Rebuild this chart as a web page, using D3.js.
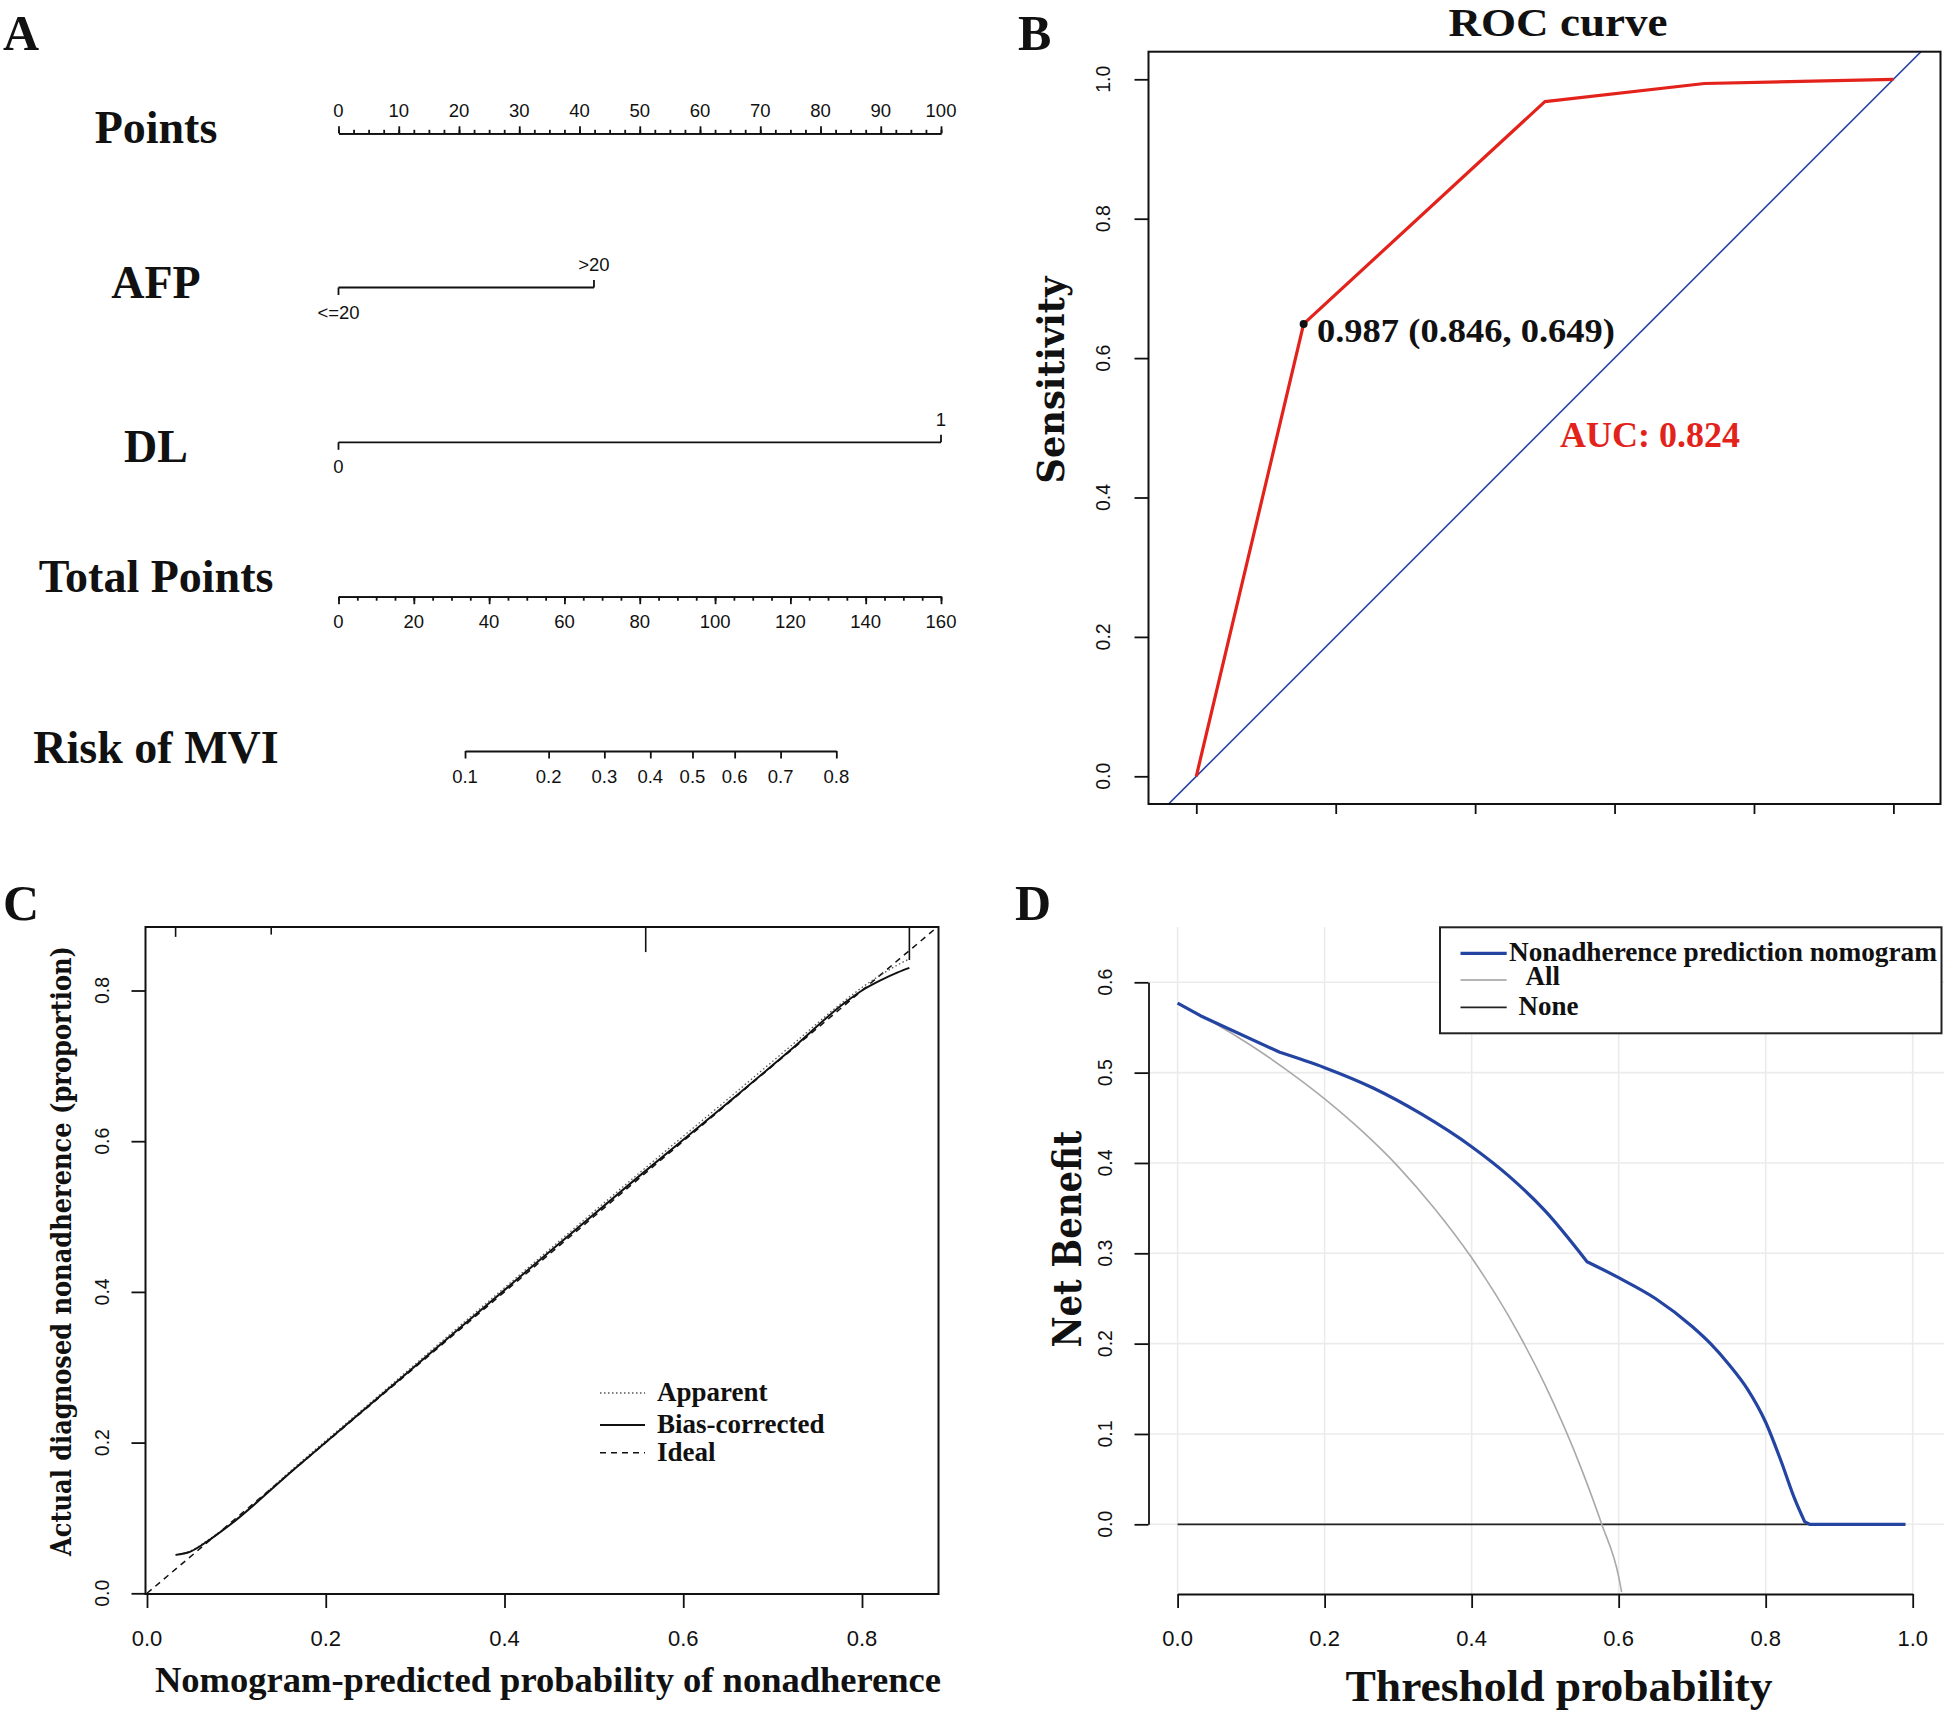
<!DOCTYPE html>
<html><head><meta charset="utf-8">
<script src="https://cdn.jsdelivr.net/npm/d3@7"></script>
<style>body{margin:0;background:#fff} svg{display:block}</style>
</head><body>
<script>
// ================= DATA =================
// Panel A : nomogram
const pointsTicks = [0,10,20,30,40,50,60,70,80,90,100];
const totalPointsTicks = [0,20,40,60,80,100,120,140,160];
const afpLevels = ["<=20", ">20"];
const afpPoints = [0, 42.4];
const dlLevels = ["0", "1"];
const dlPoints = [0, 100];
const riskTicks = [0.1,0.2,0.3,0.4,0.5,0.6,0.7,0.8];
const riskTotalPoints = [33.6,55.8,70.6,82.8,94.0,105.2,117.4,132.2];
const rowLabels = ["Points","AFP","DL","Total Points","Risk of MVI"];

// Panel B : ROC
const rocSpecificity = [1, 0.846, 0.5, 0.271, 0];
const rocSensitivity = [0, 0.649, 0.968, 0.994, 1];
const rocBestThreshold = 0.987, rocBestSpec = 0.846, rocBestSens = 0.649;
const rocAUC = 0.824;
const rocYTicks = [0,0.2,0.4,0.6,0.8,1.0];
const rocXTicks = [1.0,0.8,0.6,0.4,0.2,0.0];

// Panel C : calibration
const calPredicted     = [0.032,0.048,0.070,0.093,0.164,0.250,0.350,0.450,0.550,0.650,0.720,0.780,0.800,0.820,0.840,0.853];
const calBiasCorrected = [0.051,0.055,0.071,0.091,0.164,0.251,0.352,0.453,0.553,0.651,0.721,0.783,0.800,0.813,0.824,0.830];
const calApparent      = [0.051,0.056,0.072,0.092,0.166,0.253,0.355,0.456,0.557,0.656,0.726,0.786,0.804,0.820,0.834,0.842];
const rugPredicted = [0.032,0.139,0.558,0.853];
const rugCount = [30,23,76,100];
const calXTicks = [0,0.2,0.4,0.6,0.8];
const calYTicks = [0,0.2,0.4,0.6,0.8];
const calLegend = ["Apparent","Bias-corrected","Ideal"];

// Panel D : decision curve
const dcaThreshold = [0,0.031,0.139,0.2,0.266,0.332,0.4,0.45,0.5,0.557,0.6,0.65,0.7,0.725,0.75,0.775,0.8,0.82,0.84,0.853,0.86,0.99];
const dcaNomogram  = [0.577,0.563,0.5225,0.5055,0.483,0.454,0.418,0.386,0.347,0.2907,0.273,0.250,0.219,0.200,0.177,0.150,0.113,0.072,0.027,0.003,0.0,0.0];
const dcaKinks = [0.031,0.139,0.557,0.853,0.86];
const dcaAllThreshold = [0,0.05,0.1,0.15,0.2,0.25,0.3,0.35,0.4,0.45,0.5,0.55,0.577,0.6,0.604];
const dcaAll          = [0.577,0.555,0.530,0.502,0.471,0.436,0.396,0.349,0.295,0.231,0.154,0.060,0.0,-0.058,-0.075];
const dcaNoneThreshold = [0,0.99];
const dcaNone = [0,0];
const dcaXTicks = [0,0.2,0.4,0.6,0.8,1.0];
const dcaYTicks = [0,0.1,0.2,0.3,0.4,0.5,0.6];
const dcaLegend = ["Nonadherence prediction nomogram","All","None"];

// ================= DRAW =================
const SERIF = "'Liberation Serif','Times New Roman',serif";
const WIDESERIF = "'DejaVu Serif','Century Schoolbook',serif";
const SANS = "'Liberation Sans',Arial,Helvetica,sans-serif";
const INK = "#111";
const svg = d3.select("body").append("svg").attr("width",1944).attr("height",1712);
svg.append("rect").attr("width",1944).attr("height",1712).attr("fill","#fff");

function text(g, x, y, s, size, o = {}) {
  const t = g.append("text").attr("x", x).attr("y", y).text(s)
    .attr("font-family", o.family || SERIF).attr("font-size", size)
    .attr("font-weight", o.weight || "bold").attr("fill", o.fill || INK)
    .attr("text-anchor", o.anchor || "start");
  if (o.len) t.attr("textLength", o.len).attr("lengthAdjust", "spacingAndGlyphs");
  if (o.rotate) t.attr("transform", `rotate(-90,${x},${y})`);
  return t;
}
function styleAxis(g, w = 1.8) {
  g.selectAll("path,line").attr("stroke", INK).attr("stroke-width", w);
  g.selectAll("text").remove();
}

// panel letters
text(svg, 3, 50, "A", 50);
text(svg, 1018, 50, "B", 50);
text(svg, 3, 920, "C", 50);
text(svg, 1015, 920, "D", 50);

// ---------- Panel A ----------
const gA = svg.append("g");
const xPts = d3.scaleLinear().domain([0,100]).range([338.5,941]);
const xTot = d3.scaleLinear().domain([0,160]).range([338.5,941]);
const rowBase = [143, 298, 461.7, 591.7, 763.3];
rowLabels.forEach((s,i) => text(gA, 156, rowBase[i], s, 46, {anchor:"middle"}));

// Points axis
const ptsY = 133.3;
const gP = gA.append("g").attr("transform", `translate(0,${ptsY})`);
gP.append("g").call(d3.axisTop(xPts).tickValues(d3.range(0,100.01,2.5)).tickSize(3.5).tickSizeOuter(0)).call(styleAxis);
gP.append("g").call(d3.axisTop(xPts).tickValues(pointsTicks).tickSize(7).tickSizeOuter(0)).call(styleAxis);
pointsTicks.forEach(v => text(gP, xPts(v), -16.5, String(v), 18.5, {family:SANS, weight:"normal", anchor:"middle"}));

// categorical rows
function catRow(levels, pts, y) {
  const g = gA.append("g");
  g.append("line").attr("x1", xPts(d3.min(pts))).attr("x2", xPts(d3.max(pts)))
    .attr("y1", y).attr("y2", y).attr("stroke", INK).attr("stroke-width", 1.8);
  pts.forEach((p,i) => {
    const dir = i % 2 === 0 ? 1 : -1;
    g.append("line").attr("x1", xPts(p)).attr("x2", xPts(p)).attr("y1", y).attr("y2", y + dir*7.5)
      .attr("stroke", INK).attr("stroke-width", 1.8);
    const cy = dir > 0 ? y + 24.5 : y - 23;
    text(g, xPts(p), cy + 6.6, levels[i], 18.5, {family:SANS, weight:"normal", anchor:"middle"});
  });
}
catRow(afpLevels, afpPoints, 287.5);
catRow(dlLevels, dlPoints, 442.3);

// Total points axis
const totY = 596.7;
const gT = gA.append("g").attr("transform", `translate(0,${totY})`);
gT.append("g").call(d3.axisBottom(xTot).tickValues(d3.range(0,160.01,5)).tickSize(4).tickSizeOuter(0)).call(styleAxis);
gT.append("g").call(d3.axisBottom(xTot).tickValues(totalPointsTicks).tickSize(7.5).tickSizeOuter(0)).call(styleAxis);
totalPointsTicks.forEach(v => text(gT, xTot(v), 25 + 6.6, String(v), 18.5, {family:SANS, weight:"normal", anchor:"middle"}));

// Risk axis
const riskY = 751;
const xRisk = d3.scaleLinear().domain(riskTicks).range(riskTotalPoints.map(xTot));
const gR = gA.append("g").attr("transform", `translate(0,${riskY})`);
gR.call(d3.axisBottom(xRisk).tickValues(riskTicks).tickSize(7.5).tickSizeOuter(0)).call(styleAxis);
riskTicks.forEach(v => text(gR, xRisk(v), 25 + 6.6, d3.format(".1f")(v), 18.5, {family:SANS, weight:"normal", anchor:"middle"}));

// ---------- Panel B ----------
const gB = svg.append("g");
const B = {l:1148.5, r:1940.5, t:51.7, b:804};
const xSpec = d3.scaleLinear().domain([1,0]).range([1196.3,1893.4]);
const ySens = d3.scaleLinear().domain([0,1]).range([776.3,79.3]);
svg.append("clipPath").attr("id","clipB").append("rect").attr("x",B.l).attr("y",B.t).attr("width",B.r-B.l).attr("height",B.b-B.t);
text(gB, 1558, 36, "ROC curve", 40, {anchor:"middle", len:219});
// diagonal
gB.append("line").attr("clip-path","url(#clipB)")
  .attr("x1", xSpec(1.2)).attr("y1", ySens(-0.2)).attr("x2", xSpec(-0.2)).attr("y2", ySens(1.2))
  .attr("stroke", "#2a44a6").attr("stroke-width", 1.6);
// curve
gB.append("path").datum(d3.zip(rocSpecificity, rocSensitivity))
  .attr("d", d3.line().x(d => xSpec(d[0])).y(d => ySens(d[1])))
  .attr("fill","none").attr("stroke","#e3221b").attr("stroke-width",3.2).attr("stroke-linejoin","round");
gB.append("circle").attr("cx", xSpec(rocBestSpec)).attr("cy", ySens(rocBestSens)).attr("r", 4).attr("fill", INK);
text(gB, 1317, 342, `${rocBestThreshold} (${rocBestSpec}, ${rocBestSens})`, 34, {len:298});
text(gB, 1560, 446.7, `AUC: ${rocAUC}`, 36, {fill:"#e3221b", len:180});
gB.append("rect").attr("x",B.l).attr("y",B.t).attr("width",B.r-B.l).attr("height",B.b-B.t)
  .attr("fill","none").attr("stroke",INK).attr("stroke-width",2);
const gBy = gB.append("g").attr("transform",`translate(${B.l},0)`);
gBy.call(d3.axisLeft(ySens).tickValues(rocYTicks).tickSize(14).tickSizeOuter(0)).call(styleAxis);
gBy.select(".domain").remove();
rocYTicks.forEach(v => text(gB, 1103.3 + 7, ySens(v), d3.format(".1f")(v), 19.5, {family:SANS, weight:"normal", anchor:"middle", rotate:true}));
const gBx = gB.append("g").attr("transform",`translate(0,${B.b})`);
gBx.call(d3.axisBottom(xSpec).tickValues(rocXTicks).tickSize(10).tickSizeOuter(0)).call(styleAxis);
gBx.select(".domain").remove();
text(gB, 1064, 380, "Sensitivity", 37, {family:WIDESERIF, anchor:"middle", rotate:true, len:207});

// ---------- Panel C ----------
const gC = svg.append("g");
const C = {l:145.5, r:938.5, t:927, b:1594};
const xCal = d3.scaleLinear().domain([0,0.8]).range([147,862]);
const yCal = d3.scaleLinear().domain([0,0.8]).range([1593.3,990.5]);
svg.append("clipPath").attr("id","clipC").append("rect").attr("x",C.l).attr("y",C.t).attr("width",C.r-C.l).attr("height",C.b-C.t);
// ideal
gC.append("line").attr("clip-path","url(#clipC)")
  .attr("x1", xCal(0)).attr("y1", yCal(0)).attr("x2", xCal(1)).attr("y2", yCal(1))
  .attr("stroke", INK).attr("stroke-width", 1.5).attr("stroke-dasharray","6,5");
// apparent
gC.append("path").datum(d3.zip(calPredicted, calApparent))
  .attr("d", d3.line().x(d => xCal(d[0])).y(d => yCal(d[1])).curve(d3.curveMonotoneX))
  .attr("fill","none").attr("stroke","#555").attr("stroke-width",1.3).attr("stroke-dasharray","1.5,2.5");
// bias-corrected
gC.append("path").datum(d3.zip(calPredicted, calBiasCorrected))
  .attr("d", d3.line().x(d => xCal(d[0])).y(d => yCal(d[1])).curve(d3.curveMonotoneX))
  .attr("fill","none").attr("stroke",INK).attr("stroke-width",2);
// rug
const rugLen = d3.scaleLinear().domain([0,100]).range([0,33]);
rugPredicted.forEach((p,i) => gC.append("line").attr("x1",xCal(p)).attr("x2",xCal(p))
  .attr("y1",C.t).attr("y2",C.t + rugLen(rugCount[i])).attr("stroke",INK).attr("stroke-width",1.6));
gC.append("rect").attr("x",C.l).attr("y",C.t).attr("width",C.r-C.l).attr("height",C.b-C.t)
  .attr("fill","none").attr("stroke",INK).attr("stroke-width",2);
const gCx = gC.append("g").attr("transform",`translate(0,${C.b})`);
gCx.call(d3.axisBottom(xCal).tickValues(calXTicks).tickSize(14).tickSizeOuter(0)).call(styleAxis);
gCx.select(".domain").remove();
calXTicks.forEach(v => text(gC, xCal(v), 1646, d3.format(".1f")(v), 22, {family:SANS, weight:"normal", anchor:"middle"}));
const gCy = gC.append("g").attr("transform",`translate(${C.l},0)`);
gCy.call(d3.axisLeft(yCal).tickValues(calYTicks).tickSize(14).tickSizeOuter(0)).call(styleAxis);
gCy.select(".domain").remove();
calYTicks.forEach(v => text(gC, 102 + 7, yCal(v), d3.format(".1f")(v), 19.5, {family:SANS, weight:"normal", anchor:"middle", rotate:true}));
text(gC, 548, 1692, "Nomogram-predicted probability of nonadherence", 36, {anchor:"middle", len:786});
text(gC, 71, 1251, "Actual diagnosed nonadherence (proportion)", 28, {family:WIDESERIF, anchor:"middle", rotate:true, len:610});
// legend
const calLegY = [1393, 1425, 1452.7];
const calLegDash = ["1.5,2.5", null, "6,5"];
const calLegCol = ["#555", INK, INK];
calLegend.forEach((s,i) => {
  const l = gC.append("line").attr("x1",600).attr("x2",645).attr("y1",calLegY[i]).attr("y2",calLegY[i])
    .attr("stroke",calLegCol[i]).attr("stroke-width", i===1 ? 2 : 1.4);
  if (calLegDash[i]) l.attr("stroke-dasharray", calLegDash[i]);
  text(gC, 657, calLegY[i] + 8, s, 27);
});

// ---------- Panel D ----------
const gD = svg.append("g");
const D = {l:1148.5, r:1944, t:927, b:1594};
const xD = d3.scaleLinear().domain([0,1]).range([1177.6,1912.7]);
const yD = d3.scaleLinear().domain([0,0.6]).range([1524.3,982.3]);
svg.append("clipPath").attr("id","clipD").append("rect").attr("x",D.l).attr("y",D.t).attr("width",D.r-D.l).attr("height",D.b-D.t);
// grid
dcaXTicks.forEach(v => gD.append("line").attr("x1",xD(v)).attr("x2",xD(v)).attr("y1",D.t).attr("y2",D.b)
  .attr("stroke","#ebebeb").attr("stroke-width",1.6));
dcaYTicks.forEach(v => gD.append("line").attr("x1",D.l).attr("x2",D.r).attr("y1",yD(v)).attr("y2",yD(v))
  .attr("stroke","#ebebeb").attr("stroke-width",1.6));
const lineD = d3.line().x(d => xD(d[0])).y(d => yD(d[1]));
gD.append("path").datum(d3.zip(dcaNoneThreshold, dcaNone)).attr("d", lineD)
  .attr("fill","none").attr("stroke","#222").attr("stroke-width",1.8);
gD.append("path").attr("clip-path","url(#clipD)").datum(d3.zip(dcaAllThreshold, dcaAll))
  .attr("d", d3.line().x(d => xD(d[0])).y(d => yD(d[1])).curve(d3.curveMonotoneX))
  .attr("fill","none").attr("stroke","#a9a9a9").attr("stroke-width",1.6);
// nomogram curve: smooth pieces joined at the kinks
const nomoPts = d3.zip(dcaThreshold, dcaNomogram);
const pieces = [];
let cur = [];
nomoPts.forEach(p => { cur.push(p); if (dcaKinks.includes(p[0])) { pieces.push(cur); cur = [p]; } });
if (cur.length > 1) pieces.push(cur);
const smoothD = d3.line().x(d => xD(d[0])).y(d => yD(d[1])).curve(d3.curveMonotoneX);
const pathStr = pieces.map((pc, i) => { const s = smoothD(pc); return i === 0 ? s : s.replace(/^M/, "L"); }).join("");
gD.append("path").attr("d", pathStr)
  .attr("fill","none").attr("stroke","#2444a2").attr("stroke-width",3.2).attr("stroke-linejoin","round");
// axes
const gDx = gD.append("g").attr("transform",`translate(0,${D.b})`);
gDx.call(d3.axisBottom(xD).tickValues(dcaXTicks).tickSize(14).tickSizeOuter(0)).call(styleAxis);
dcaXTicks.forEach(v => text(gD, xD(v), 1646, d3.format(".1f")(v), 22, {family:SANS, weight:"normal", anchor:"middle"}));
const gDy = gD.append("g").attr("transform",`translate(${D.l},0)`);
gDy.call(d3.axisLeft(yD).tickValues(dcaYTicks).tickSize(14).tickSizeOuter(0)).call(styleAxis);
dcaYTicks.forEach(v => text(gD, 1105 + 7, yD(v), d3.format(".1f")(v), 19.5, {family:SANS, weight:"normal", anchor:"middle", rotate:true}));
text(gD, 1559, 1701, "Threshold probability", 45, {anchor:"middle", len:427});
text(gD, 1081, 1239, "Net Benefit", 39, {family:WIDESERIF, anchor:"middle", rotate:true, len:217});
// legend
gD.append("rect").attr("x",1440).attr("y",927.3).attr("width",501.5).attr("height",106)
  .attr("fill","#fff").attr("stroke","#222").attr("stroke-width",2);
const dLegLineY = [953.3, 980, 1007.3];
const dLegCol = ["#2444a2", "#b5b5b5", "#222"];
const dLegW = [3.2, 1.8, 1.8];
const dLegTx = [1509, 1525.6, 1518.5];
const dLegTy = [961, 985, 1014.5];
dcaLegend.forEach((s,i) => {
  gD.append("line").attr("x1",1460.5).attr("x2",1506.7).attr("y1",dLegLineY[i]).attr("y2",dLegLineY[i])
    .attr("stroke",dLegCol[i]).attr("stroke-width",dLegW[i]);
  text(gD, dLegTx[i], dLegTy[i], s, 27, i===0 ? {len:428} : {});
});
</script>
</body></html>
